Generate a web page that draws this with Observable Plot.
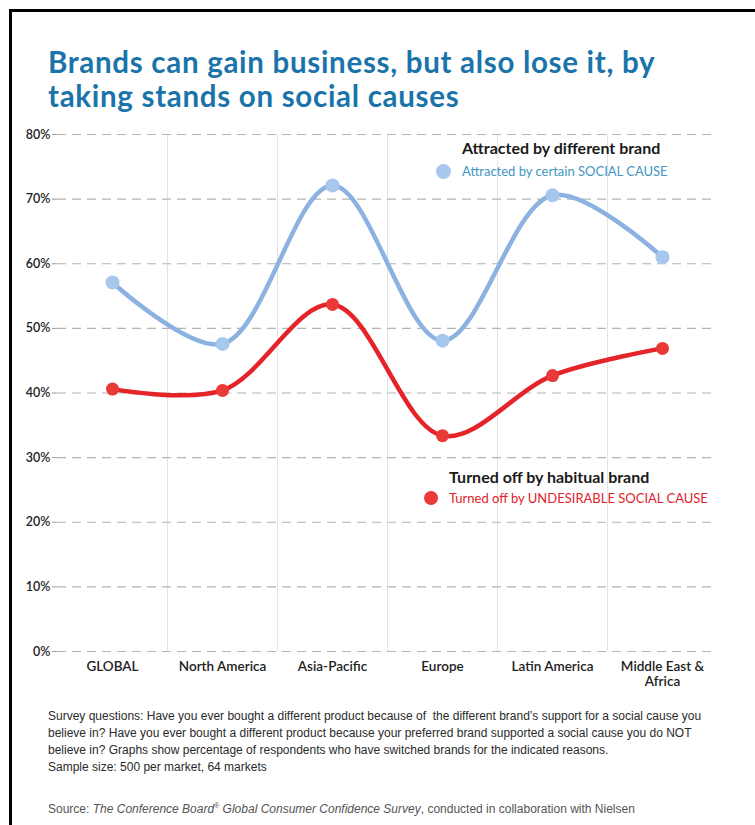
<!DOCTYPE html>
<html>
<head>
<meta charset="utf-8">
<script src="https://cdn.jsdelivr.net/npm/d3@7"></script>
<script src="https://cdn.jsdelivr.net/npm/@observablehq/plot@0.6"></script>
<style>
  html, body { margin: 0; padding: 0; background: #fff; }
  body { width: 755px; height: 825px; position: relative; overflow: hidden; font-family: Lato, "Open Sans", sans-serif; }
  #frame { position: absolute; left: 9px; top: 9px; width: 800px; height: 900px; border-top: 3px solid #000; border-left: 3px solid #000; }
  .title-line { position: absolute; left: 48px; font-family: Lato, sans-serif; font-weight: 700; font-size: 29.5px; letter-spacing: 0.7px; line-height: 33px; height: 33px; color: #1a74aa; white-space: nowrap; }
  #chart { position: absolute; left: 0; top: 120px; }
  .lg-head { position: absolute; font-family: Lato, sans-serif; font-weight: 700; font-size: 16px; color: #1a1a1a; white-space: nowrap; line-height: 18px; }
  .lg-item { position: absolute; font-family: Lato, sans-serif; font-size: 13px; white-space: nowrap; line-height: 16px; }
  .lg-dot { position: absolute; border-radius: 50%; }
  #notes { position: absolute; left: 48px; top: 708px; font-family: "Liberation Sans Narrow", "Liberation Sans", sans-serif; font-size: 12px; line-height: 17px; color: #2a2a2a; white-space: nowrap; }
  #source { position: absolute; left: 48px; top: 797px; font-family: "Liberation Sans Narrow", "Liberation Sans", sans-serif; font-size: 12px; line-height: 17px; color: #555; white-space: nowrap; }
</style>
</head>
<body>
<div id="frame"></div>
<div class="title-line" style="top:45px">Brands can gain business, but also lose it, by</div>
<div class="title-line" style="top:79px">taking stands on social causes</div>
<div id="chart"></div>
<div id="legend"></div>
<div id="notes">Survey questions: Have you ever bought a different product because of&nbsp; the different brand’s support for a social cause you<br>believe in? Have you ever bought a different product because your preferred brand supported a social cause you do NOT<br>believe in? Graphs show percentage of respondents who have switched brands for the indicated reasons.<br>Sample size: 500 per market, 64 markets</div>
<div id="source">Source: <i>The Conference Board<sup style="font-size:7px">®</sup> Global Consumer Confidence Survey</i>, conducted in collaboration with Nielsen</div>
<script>
// ---- data ----
const regions = ["GLOBAL", "North America", "Asia-Pacific", "Europe", "Latin America", "Middle East & Africa"];
const attracted = [57.1, 47.6, 72.1, 48.1, 70.6, 61.0];
const turnedOff = [40.6, 40.4, 53.7, 33.4, 42.7, 46.9];
const yTicks = [0, 10, 20, 30, 40, 50, 60, 70, 80];
const seriesNames = ["Attracted by certain SOCIAL CAUSE", "Turned off by UNDESIRABLE SOCIAL CAUSE"];
const seriesHeads = ["Attracted by different brand", "Turned off by habitual brand"];

const blueLine = "#8cb2e1", blueDot = "#a7c7ed";
const redLine = "#e5242a", redDot = "#ea3a37";

const rowsA = regions.map((r, i) => ({region: r, value: attracted[i]}));
const rowsT = regions.map((r, i) => ({region: r, value: turnedOff[i]}));

const W = 755, H = 580, mL = 57, mR = 38, mT = 14, mB = 49;
const band = (W - mL - mR) / regions.length;

const chart = Plot.plot({
  width: W, height: H,
  marginLeft: mL, marginRight: mR, marginTop: mT, marginBottom: mB,
  style: {fontFamily: "Lato, sans-serif", color: "#222", background: "transparent"},
  x: {type: "band", domain: regions, padding: 0, axis: null},
  y: {domain: [0, 80], axis: null},
  marks: [
    Plot.ruleX(regions.slice(1), {x: d => d, dx: -band / 2, stroke: "#e4e4e4", strokeWidth: 1}),
    Plot.ruleY(yTicks, {y: d => d, stroke: "#b4b4b4", strokeWidth: 1.2, strokeDasharray: "9,6"}),
    Plot.axisY(yTicks, {tickFormat: d => d + "%", tickSize: 5, tickPadding: 2, stroke: "#999", fill: "#222", fontSize: 12.5, fontWeight: 600, label: null}),
    Plot.axisX({tickSize: 0, tickPadding: 8, fontSize: 13.5, fontWeight: 600, fill: "#222", label: null, lineHeight: 1.15,
      tickFormat: d => d === "Middle East & Africa" ? "Middle East &\nAfrica" : d}),
    Plot.line(rowsA, {x: "region", y: "value", stroke: blueLine, strokeWidth: 4.5, curve: "catmull-rom"}),
    Plot.line(rowsT, {x: "region", y: "value", stroke: redLine, strokeWidth: 4.5, curve: "catmull-rom"}),
    Plot.dot(rowsA, {x: "region", y: "value", r: 7, fill: blueDot}),
    Plot.dot(rowsT, {x: "region", y: "value", r: 6.5, fill: redDot})
  ]
});
document.getElementById("chart").appendChild(chart);

// ---- legend (HTML) ----
const legend = document.getElementById("legend");
const legendItems = [
  {head: seriesHeads[0], name: seriesNames[0], dot: blueDot, textColor: "#4496c2", left: 462, headTop: 139, itemTop: 163, dotLeft: 436, dotSize: 15},
  {head: seriesHeads[1], name: seriesNames[1], dot: redDot, textColor: "#e0222a", left: 449, headTop: 468, itemTop: 490, dotLeft: 424, dotSize: 14}
];
legendItems.forEach(it => {
  const h = document.createElement("div");
  h.className = "lg-head"; h.textContent = it.head;
  h.style.left = it.left + "px"; h.style.top = it.headTop + "px";
  legend.appendChild(h);
  const d = document.createElement("div");
  d.className = "lg-dot"; d.style.background = it.dot;
  d.style.width = it.dotSize + "px"; d.style.height = it.dotSize + "px";
  d.style.left = it.dotLeft + "px"; d.style.top = (it.itemTop + 8 - it.dotSize / 2) + "px";
  legend.appendChild(d);
  const t = document.createElement("div");
  t.className = "lg-item"; t.textContent = it.name; t.style.color = it.textColor;
  t.style.left = it.left + "px"; t.style.top = it.itemTop + "px";
  legend.appendChild(t);
});
</script>
</body>
</html>
